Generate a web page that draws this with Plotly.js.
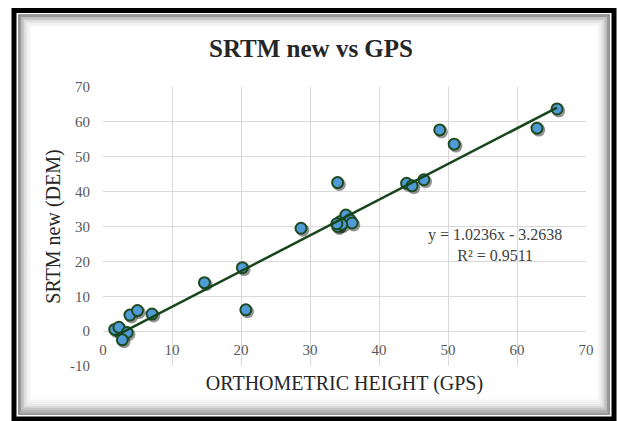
<!DOCTYPE html>
<html>
<head>
<meta charset="utf-8">
<script src="https://cdn.plot.ly/plotly-3.0.1.min.js"></script>
<style>
  html, body { margin: 0; padding: 0; background: #ffffff; }
  #chart { width: 618px; height: 421px; }
</style>
</head>
<body>
<div id="chart"></div>
<script>
// ---- data ----
const gpsHeight = [1.7, 2.3, 3.5, 2.8, 3.9, 5.0, 7.1, 14.7, 20.2, 20.7, 28.7, 34.0,
                   34.1, 34.4, 35.2, 35.8, 36.1, 34.0, 34.6, 33.9,
                   44.0, 44.8, 46.5, 48.8, 50.9, 62.9, 65.8];
const srtmNew   = [0.5, 1.1, -0.4, -2.5, 4.6, 5.9, 4.9, 13.9, 18.2, 6.1, 29.5, 42.6,
                   30.3, 31.4, 33.3, 31.9, 31.0, 30.0, 30.6, 30.8,
                   42.4, 41.7, 43.4, 57.7, 53.6, 58.2, 63.7];
const trendSlope = 1.0236;
const trendIntercept = -3.2638;
const rSquared = 0.9511;
const xTicks = [0, 10, 20, 30, 40, 50, 60, 70];
const yTicks = [-10, 0, 10, 20, 30, 40, 50, 60, 70];

// ---- layout geometry ----
const W = 618, H = 421, L = 103, R = 32, T = 87, B = 55;
const PW = W - L - R, PH = H - T - B;
const fx = px => (px - L) / PW;
const fy = py => (H - B - py) / PH;
const SERIF = '"Liberation Serif", "Times New Roman", Times, serif';

const xMin = Math.min(...gpsHeight), xMax = Math.max(...gpsHeight);
const trendX = [xMin, xMax];
const trendY = trendX.map(v => trendSlope * v + trendIntercept);

const shadow = {
  x: gpsHeight.map(v => v + 0.25), y: srtmNew.map(v => v - 0.55),
  mode: 'markers', type: 'scatter', hoverinfo: 'skip', showlegend: false,
  marker: { size: 13, color: 'rgba(0,0,0,0.42)', line: { width: 0 } }
};
const pts = {
  x: gpsHeight, y: srtmNew, mode: 'markers', type: 'scatter', showlegend: false,
  marker: { size: 11, color: '#4f9bd8', line: { color: '#1d4a20', width: 2 } }
};
const trend = {
  x: trendX, y: trendY, mode: 'lines', type: 'scatter', showlegend: false,
  line: { color: '#17461c', width: 2.5 }
};

// frame: black border plus soft inner shadow
const shapes = [];
function rectPx(x0, y0, x1, y1, color, width) {
  shapes.push({ type: 'rect', xref: 'paper', yref: 'paper',
    x0: fx(x0), x1: fx(x1), y0: fy(y1), y1: fy(y0),
    line: { color: color, width: width }, fillcolor: 'rgba(0,0,0,0)', layer: 'above' });
}
const grads = ['#7a7a7a', '#999', '#b3b3b3', '#c8c8c8', '#d9d9d9', '#e6e6e6', '#efefef', '#f6f6f6'];
grads.forEach((c, i) => {
  const d = i * 1.5;
  rectPx(19 + d, 15 + d, 609 - d, 414 - d * 1.3, c, 1.6);
});
rectPx(17, 13, 611, 416, '#ffffff', 1);
rectPx(14, 10.5, 614, 419, '#000000', 5);

const tickFont = { family: SERIF, size: 15, color: '#595959' };

const layout = {
  width: W, height: H,
  font: { family: SERIF },
  margin: { l: L, r: R, t: T, b: B, pad: 0 },
  paper_bgcolor: '#ffffff', plot_bgcolor: '#ffffff',
  title: {
    text: 'SRTM new vs GPS',
    font: { family: SERIF, size: 25, color: '#262626', weight: 'bold' },
    x: fx(311), xref: 'paper', xanchor: 'center',
    y: 1 - 48 / H, yref: 'container', yanchor: 'middle'
  },
  xaxis: {
    range: [0, 70], tickvals: xTicks, ticktext: xTicks.map(String),
    anchor: 'free', position: 10 / 80,
    showgrid: true, gridcolor: '#d9d9d9', gridwidth: 1,
    zeroline: false, showline: false, ticks: '', ticklabelstandoff: 8,
    tickfont: tickFont,
    title: { text: 'ORTHOMETRIC HEIGHT (GPS)', standoff: 18,
      font: { family: SERIF, size: 20, color: '#262626' } }
  },
  yaxis: {
    range: [-10, 70], tickvals: yTicks, ticktext: yTicks.map(String), domain: [0, 1],
    showgrid: true, gridcolor: '#d9d9d9', gridwidth: 1,
    zeroline: false, showline: false, ticks: '', ticklabelstandoff: 12,
    tickfont: tickFont,
    title: { text: 'SRTM new (DEM)', standoff: 4,
      font: { family: SERIF, size: 20, color: '#262626' } }
  },
  shapes: shapes,
  annotations: [{
    xref: 'paper', yref: 'paper', x: fx(495), y: fy(245), xanchor: 'center', yanchor: 'middle',
    showarrow: false, align: 'center',
    text: 'y = ' + trendSlope.toFixed(4) + 'x - ' + Math.abs(trendIntercept).toFixed(4) +
          '<br>R² = ' + rSquared.toFixed(4),
    font: { family: SERIF, size: 16, color: '#404040' }
  }]
};

Plotly.newPlot('chart', [shadow, pts, trend], layout, { displayModeBar: false, staticPlot: true });
</script>
</body>
</html>
